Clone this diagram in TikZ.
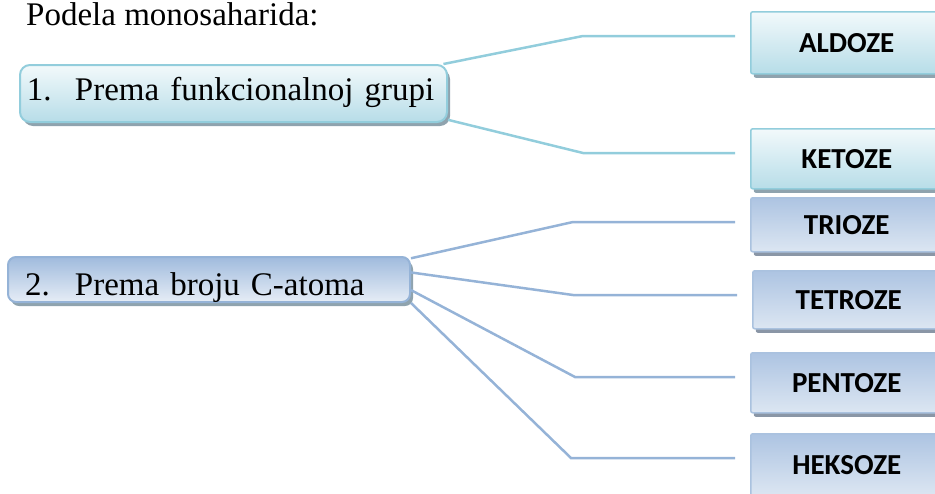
\documentclass[tikz,border=0pt]{standalone}
\usepackage{fontspec}
\setmainfont{Liberation Serif}
\newfontfamily\calibrifont{Carlito}
\usetikzlibrary{positioning, shadows}

\definecolor{cyanline}{HTML}{92CDDC}
\definecolor{cyantop}{HTML}{F2F9FB}
\definecolor{cyanbot}{HTML}{B7DDE8}
\definecolor{blueline}{HTML}{95B3D7}
\definecolor{bluedark}{HTML}{A0BBDD}
\definecolor{bluelight}{HTML}{E6EDF6}
\definecolor{bluetop}{HTML}{ADC4E2}
\definecolor{bluebot}{HTML}{DCE6F2}
\definecolor{shadowgray}{HTML}{8FA3AE}
\definecolor{shadowblue}{HTML}{8A96A6}

\begin{document}
\begin{tikzpicture}[
          x=1pt, y=-1pt,
          main_font/.style={font=\fontsize{33pt}{38pt}\selectfont},
          group_box/.style={draw, line width=2pt, align=left, main_font, drop shadow={shadow xshift=3pt, shadow yshift=-4pt, fill=shadowgray, opacity=1}},
          cyan_group/.style={group_box, draw=cyanline, rounded corners=10pt, top color=cyantop, bottom color=cyanbot},
          blue_group/.style={group_box, draw=blueline, rounded corners=8pt, top color=bluedark, bottom color=bluelight},
          type_box/.style={draw, line width=1.5pt, rounded corners=2pt, minimum width=192pt, anchor=north west, font=\fontsize{29pt}{34pt}\calibrifont\bfseries},
          cyan_type/.style={type_box, draw=cyanline, top color=cyantop, bottom color=cyanbot, drop shadow={shadow xshift=3pt, shadow yshift=-4pt, fill=shadowgray, opacity=1}},
          blue_type/.style={type_box, draw=blueline!80, top color=bluetop, bottom color=bluebot, drop shadow={shadow xshift=3pt, shadow yshift=-4pt, fill=shadowblue, opacity=1}},
          cyan_link/.style={draw=cyanline, line width=2.5pt, shorten >=15pt},
          blue_link/.style={draw=blueline, line width=2.5pt, shorten >=15pt}
      ]
          \useasboundingbox (0,0) rectangle (935,493);

          % naslov
          \node[main_font, anchor=base west, inner sep=0pt] (title) at (26,25) {Podela monosaharida:};

          % podela po funkcionalnoj grupi
          \node[cyan_group, inner xsep=7pt, minimum height=57pt, text width=413pt, text height=22pt, text depth=9pt] (funk) at (233.5,93.5) {\makebox[48pt][l]{1.}Prema funkcionalnoj grupi};
          \node[cyan_type, minimum height=62pt] (aldoze) at (750,11) {ALDOZE};
          \node[cyan_type, minimum height=60pt] (ketoze) at (750,128) {KETOZE};

          \coordinate (b_ald) at (583,36);
          \coordinate (b_ket) at (583,153);
          \draw[cyan_link] (funk.8) -- (b_ald) -- (b_ald -| aldoze.west);
          \draw[cyan_link] (funk.-7) -- (b_ket) -- (b_ket -| ketoze.west);

          % podela po broju C-atoma
          \node[blue_group, inner xsep=17pt, minimum height=45pt, text width=368pt, text height=31pt, text depth=0pt] (atom) at (209,279.5) {\makebox[50pt][l]{2.}Prema broju C-atoma};
          \node[blue_type, minimum height=54pt] (trioze) at (750,197) {TRIOZE};
          \node[blue_type, minimum height=58pt] (tetroze) at (752,270) {TETROZE};
          \node[blue_type, minimum height=60pt] (pentoze) at (750,352) {PENTOZE};
          \node[blue_type, minimum height=62pt] (heksoze) at (750,433) {HEKSOZE};

          \coordinate (b_tri) at (573,222);
          \coordinate (b_tet) at (573,295);
          \coordinate (b_pen) at (575,377);
          \coordinate (b_hek) at (571,458);
          \draw[blue_link] (atom.6) -- (b_tri) -- (b_tri -| trioze.west);
          \draw[blue_link] (atom.2) -- (b_tet) -- (b_tet -| tetroze.west);
          \draw[blue_link] (atom.-3) -- (b_pen) -- (b_pen -| pentoze.west);
          \draw[blue_link] (atom.south east) -- (b_hek) -- (b_hek -| heksoze.west);
      \end{tikzpicture}
\end{document}
